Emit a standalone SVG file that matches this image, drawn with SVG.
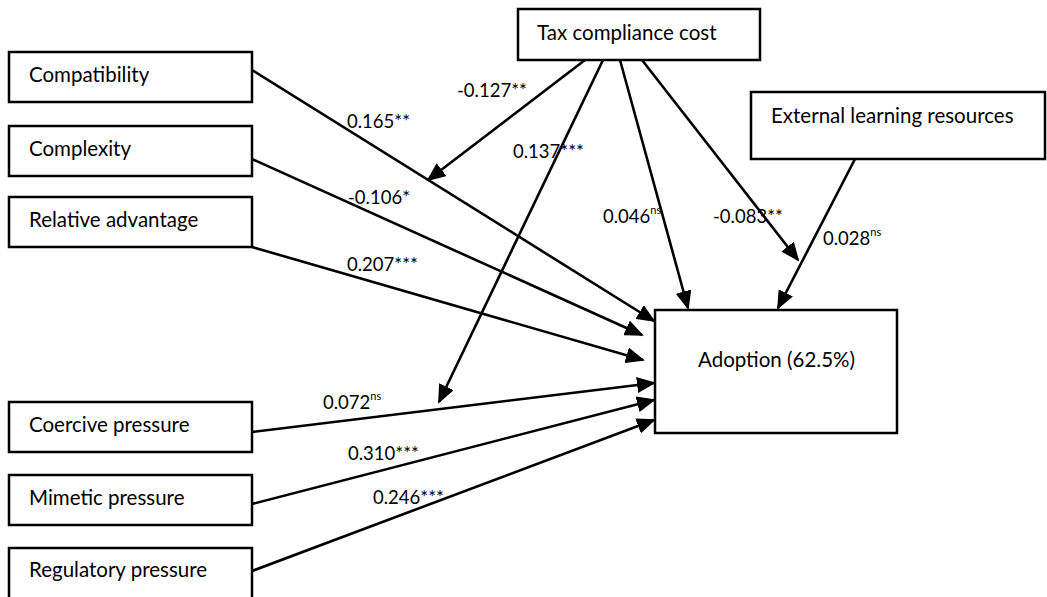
<svg xmlns="http://www.w3.org/2000/svg" width="1047" height="597" viewBox="0 0 1047 597">
<style>
.box{fill:#fff;stroke:#000;stroke-width:2.5}
.t{font-family:Lato,"Liberation Sans",sans-serif;font-size:20.5px;fill:#000}
.l{font-family:Lato,"Liberation Sans",sans-serif;font-size:18.5px;fill:#000}
.s{font-size:11px}
.c{stroke:#000;stroke-width:2.6;fill:none;marker-end:url(#ah)}
</style>
<defs>
<marker id="ah" markerUnits="userSpaceOnUse" markerWidth="20" markerHeight="16" refX="17" refY="8" orient="auto">
<path d="M0,0 L19,8 L0,16 z" fill="#000"/>
</marker>
</defs>
<rect width="1047" height="597" fill="#fff"/>
<g id="connectors">
<line class="c" x1="252" y1="70" x2="654" y2="321"/>
<line class="c" x1="252" y1="159" x2="642" y2="335"/>
<line class="c" x1="252" y1="247" x2="643" y2="360"/>
<line class="c" x1="252" y1="432" x2="654" y2="383"/>
<line class="c" x1="252" y1="504" x2="654" y2="400"/>
<line class="c" x1="252" y1="571" x2="654" y2="420"/>
<line class="c" x1="585" y1="60" x2="428" y2="180"/>
<line class="c" x1="603" y1="60" x2="439" y2="402"/>
<line class="c" x1="620" y1="60" x2="688" y2="308"/>
<line class="c" x1="642" y1="60" x2="798" y2="260"/>
<line class="c" x1="855" y1="159" x2="778" y2="308"/>
</g>
<g id="labels">
<text class="l" x="457" y="97">-0.127**</text>
<text class="l" x="347" y="128">0.165**</text>
<text class="l" x="513" y="158">0.137***</text>
<text class="l" x="348" y="204">-0.106*</text>
<text class="l" x="347" y="271">0.207***</text>
<text class="l" x="603" y="223">0.046<tspan class="s" dy="-9">ns</tspan></text>
<text class="l" x="713" y="223">-0.083**</text>
<text class="l" x="823" y="245">0.028<tspan class="s" dy="-9">ns</tspan></text>
<text class="l" x="323" y="409">0.072<tspan class="s" dy="-9">ns</tspan></text>
<text class="l" x="348" y="460">0.310***</text>
<text class="l" x="373" y="504">0.246***</text>
</g>
<g id="compatibility"><rect class="box" x="9" y="52" width="243" height="50"/><text class="t" x="29" y="82">Compatibility</text></g>
<g id="complexity"><rect class="box" x="9" y="126" width="243" height="50"/><text class="t" x="29" y="156">Complexity</text></g>
<g id="relative-advantage"><rect class="box" x="9" y="197" width="243" height="50"/><text class="t" x="29" y="227">Relative advantage</text></g>
<g id="coercive-pressure"><rect class="box" x="9" y="402" width="243" height="50"/><text class="t" x="29" y="432">Coercive pressure</text></g>
<g id="mimetic-pressure"><rect class="box" x="9" y="475" width="243" height="50"/><text class="t" x="29" y="505">Mimetic pressure</text></g>
<g id="regulatory-pressure"><rect class="box" x="9" y="548" width="243" height="54"/><text class="t" x="29" y="577">Regulatory pressure</text></g>
<g id="tax-compliance-cost"><rect class="box" x="518" y="9" width="242" height="51"/><text class="t" x="537" y="40">Tax compliance cost</text></g>
<g id="external-learning-resources"><rect class="box" x="751" y="92" width="294" height="67"/><text class="t" x="771" y="123">External learning resources</text></g>
<g id="adoption"><rect class="box" x="655" y="310" width="242" height="123"/><text class="t" x="698" y="367">Adoption (62.5%)</text></g>
</svg>
